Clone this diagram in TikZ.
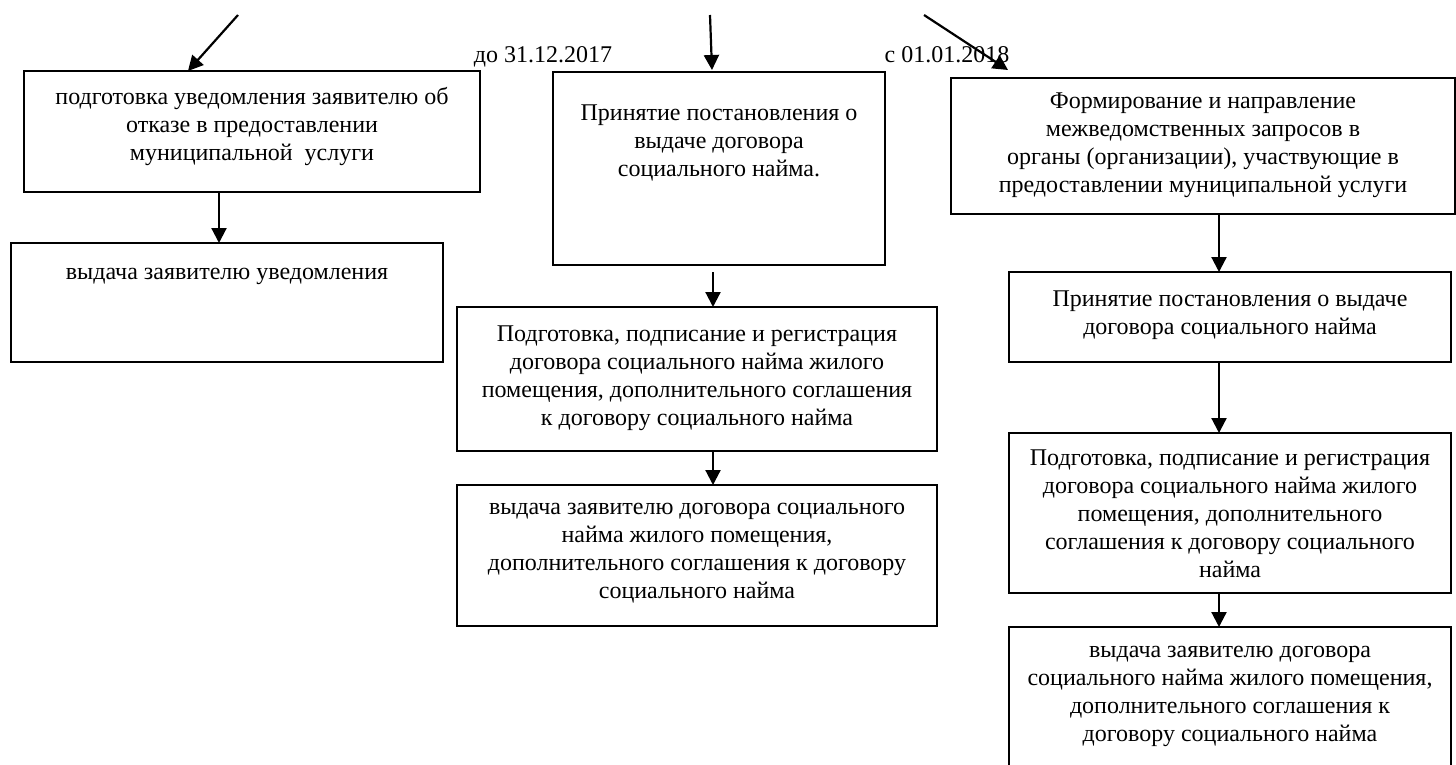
\documentclass[tikz,border=0pt]{standalone}
\usepackage{fontspec}
\setmainfont{Liberation Serif}
\usetikzlibrary{arrows.meta,calc}
\begin{document}
\begin{tikzpicture}[x=0.5pt,y=-0.5pt,
  box/.style={draw, rectangle, inner sep=0pt, outer sep=0pt, line width=0.6pt},
  thickbox/.style={box, line width=1pt},
  txt/.style={anchor=north, align=center, inner sep=0pt, font=\fontsize{12}{14}\selectfont},
  lbl/.style={anchor=base, inner sep=0pt, font=\fontsize{12}{14}\selectfont},
  arr/.style={line width=1.1pt, -{Triangle[length=7.5pt,width=7.5pt]}},
]
\useasboundingbox (0,0) rectangle (1456,765);
\clip (0,0) rectangle (1456,765);

% boxes
\node[box, minimum width=228pt, minimum height=60.5pt] (A) at (252,131.5) {};
\node[box, minimum width=216pt, minimum height=59.5pt] (B) at (227,302.5) {};
\node[thickbox, minimum width=166pt, minimum height=96.5pt] (C) at (719,168.5) {};
\node[box, minimum width=240pt, minimum height=72pt] (D) at (697,379) {};
\node[box, minimum width=240pt, minimum height=70.5pt] (E) at (697,555.5) {};
\node[thickbox, minimum width=252pt, minimum height=68pt] (F) at (1203,146) {};
\node[box, minimum width=221pt, minimum height=45pt] (G) at (1230,317) {};
\node[box, minimum width=221pt, minimum height=80pt] (H) at (1230,513) {};
\node[box, minimum width=221pt, minimum height=81.5pt] (I) at (1230,708.5) {};

% texts
\node[txt] (tA) at (252,87) {подготовка уведомления заявителю об\\отказе в предоставлении\\муниципальной~ услуги};
\node[txt] (tB) at (227,268) {выдача заявителю уведомления};
\node[txt] (tC) at (719,104) {Принятие постановления о\\выдаче договора\\социального найма.};
\node[txt] (tD) at (697,325) {Подготовка, подписание и регистрация\\договора социального найма жилого\\помещения, дополнительного соглашения\\к договору социального найма};
\node[txt] (tE) at (697,503) {выдача заявителю договора социального\\найма жилого помещения,\\дополнительного соглашения к договору\\социального найма};
\node[txt] (tF) at (1203,92) {Формирование и направление\\межведомственных запросов в\\органы (организации), участвующие в\\предоставлении муниципальной услуги};
\node[txt] (tG) at (1230,290) {Принятие постановления о выдаче\\договора социального найма};
\node[txt] (tH) at (1230,449) {Подготовка, подписание и регистрация\\договора социального найма жилого\\помещения, дополнительного\\соглашения к договору социального\\найма};
\node[txt] (tI) at (1230,646) {выдача заявителю договора\\социального найма жилого помещения,\\дополнительного соглашения к\\договору социального найма};

% labels
\node[lbl] (l1) at (543,63) {до 31.12.2017};
\node[lbl] (l2) at (947,63) {с 01.01.2018};

% connectors
\coordinate (s1) at (238,15);
\coordinate (s2) at (710,15);
\coordinate (s3) at (924,15);
\draw[arr] (s1) -- ($(A.north west)+(164,0)$);
\draw[arr] (s2) -- ($(C.north west)+(159,-2)$);
\draw[arr] (s3) -- ($(F.north west)+(57,-8)$);

\coordinate (xa) at (219,0);
\draw[arr] (xa |- A.south) -- (xa |- B.north);

\coordinate (xc) at (713,0);
\draw[arr] ($(xc |- C.south)+(0,7)$) -- (xc |- D.north);
\draw[arr] (xc |- D.south) -- (xc |- E.north);

\coordinate (xr) at (1219,0);
\draw[arr] (xr |- F.south) -- (xr |- G.north);
\draw[arr] (xr |- G.south) -- (xr |- H.north);
\draw[arr] (xr |- H.south) -- (xr |- I.north);
\end{tikzpicture}
\end{document}
